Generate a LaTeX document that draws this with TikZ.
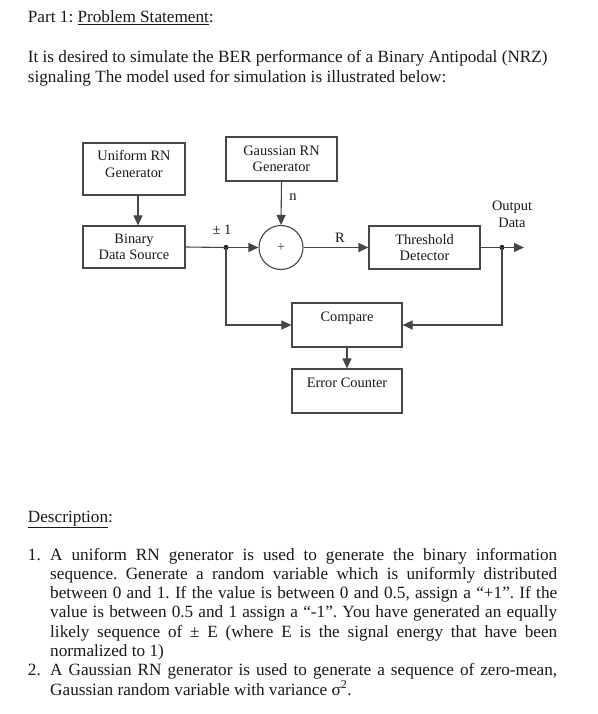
\documentclass[tikz,border=0pt]{standalone}
\usepackage{fontspec}
\setmainfont{Liberation Serif}
\usetikzlibrary{arrows.meta,calc}
\definecolor{linec}{RGB}{70,70,70}
\definecolor{textc}{RGB}{25,25,25}
\frenchspacing
\begin{document}
\begin{tikzpicture}[x=1pt,y=-1pt,
  box/.style={draw=linec, line width=1.1pt, rectangle, inner sep=0pt, align=center, text=textc, font=\fontsize{14.4}{16.6}\selectfont},
  wire/.style={draw=linec, line width=1.1pt},
  conn/.style={draw=linec, line width=1.1pt, -{Triangle[length=10pt,width=9pt]}},
  dotn/.style={circle, fill=black, inner sep=0pt, minimum size=5pt},
  body/.style={anchor=base west, inner sep=0pt, text=textc, font=\fontsize{17.2}{19.5}\selectfont},
  lbl/.style={inner sep=0pt, text=textc, font=\fontsize{14.4}{16.6}\selectfont}]
\useasboundingbox (0,0) rectangle (597,714);
\fill[white] (0,0) rectangle (597,714);

% header text
\node[body] (t0) at (27.7,23) {Part 1: \underline{Problem Statement}:};
\node[body] (t1) at (27.7,63) {It is desired to simulate the BER performance of a Binary Antipodal (NRZ)};
\node[body] (t2) at (27.7,82.5) {signaling The model used for simulation is illustrated below:};

% diagram blocks
\node[box, minimum width=102pt, minimum height=52pt] (uni) at (134,169) {Uniform RN\\Generator\\[-6pt]\mbox{}};
\node[box, minimum width=102pt, minimum height=42pt] (bin) at (134,247) {Binary\\Data Source};
\node[box, minimum width=111pt, minimum height=44pt] (gauss) at (281.5,159) {Gaussian RN\\Generator};
\node[circle, draw=linec, line width=1.1pt, minimum size=44pt, inner sep=0pt, text=linec, font=\fontsize{14}{16}\selectfont] (sum) at (281,247.5) {+};
\node[box, minimum width=111pt, minimum height=43pt] (thr) at (424.5,247.5) {Threshold\\Detector};
\node[box, minimum width=110pt, minimum height=44pt] (cmp) at (347,325) {Compare\\\mbox{}};
\node[box, minimum width=110pt, minimum height=44pt] (err) at (347,391) {Error Counter\\\mbox{}};

\node[dotn] (d1) at (226,247.5) {};
\node[dotn] (d2) at (502,247.5) {};
\coordinate (out) at (524,247.5);

% labels
\node[lbl] (pm) at (222,230) {± 1};
\node[lbl] (nl) at (293,197) {n};
\node[lbl] (rl) at (340,238) {R};
\node[lbl, align=center] (od) at (512,214.5) {Output\\Data};

% connectors
\draw[conn] ($(uni.south)+(4,0)$) -- ($(bin.north)+(4,0)$);
\draw[wire] (bin.east) -- (d1.center);
\draw[conn] (d1.center) -- (sum.west);
\draw[conn] (gauss.south) -- (sum.north);
\draw[conn] (sum.east) -- (thr.west);
\draw[wire] (thr.east) -- (d2.center);
\draw[conn] (d2.center) -- (out);
\draw[conn] (d1.center) |- (cmp.west);
\draw[conn] (d2.center) |- (cmp.east);
\draw[conn] (cmp.south) -- (err.north);

% description
\node[body] (d0) at (27.7,522) {\underline{Description}:};
\node[body] (n1) at (27.7,560) {1.};
\node[body] (l1) at (50,560) {\makebox[507pt][s]{A uniform RN generator is used to generate the binary information}};
\node[body] (l2) at (50,579.3) {\makebox[507pt][s]{sequence. Generate a random variable which is uniformly distributed}};
\node[body] (l3) at (50,598.6) {\makebox[507pt][s]{between 0 and 1. If the value is between 0 and 0.5, assign a “+1”. If the}};
\node[body] (l4) at (50,617.9) {\makebox[507pt][s]{value is between 0.5 and 1 assign a “-1”. You have generated an equally}};
\node[body] (l5) at (50,637.2) {\makebox[507pt][s]{likely sequence of ± E (where E is the signal energy that have been}};
\node[body] (l6) at (50,656.5) {normalized to 1)};
\node[body] (n2) at (27.7,675.8) {2.};
\node[body] (l7) at (50,675.8) {\makebox[507pt][s]{A Gaussian RN generator is used to generate a sequence of zero-mean,}};
\node[body] (l8) at (50,695.1) {Gaussian random variable with variance σ\textsuperscript{2}.};
\end{tikzpicture}
\end{document}
